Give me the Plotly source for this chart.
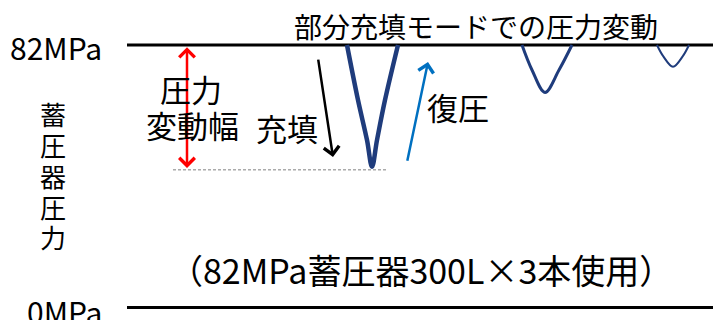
import plotly.graph_objects as go

# pressure levels (MPa)
p_full = 82
p_zero = 0
p_min_line = 43

# line extent along the time axis
t_start = 127
t_end = 721
t_dash = [173, 388]

# three pressure dips (partial filling mode)
dip1_t = [347, 358, 367, 372, 377, 385, 398]
dip1_p = [82, 64.8, 52.3, 44.0, 52.3, 64.8, 82]
dip2_t = [522, 532, 545, 559, 572]
dip2_p = [82, 74.2, 67.2, 74.2, 82]
dip3_t = [657, 663, 673, 683, 689]
dip3_p = [82, 78.6, 75.2, 78.6, 82]

title_text = "部分充填モードでの圧力変動"
note_text = "（82MPa蓄圧器300L×3本使用）"
ylabel_chars = "蓄圧器圧力"

# the page body has an 8px margin, so the figure sits at (8, 8)
OFF = 8
W, H = 721 - OFF, 320 - OFF
FONT = "Noto Sans CJK JP"
NAVY = "#1F3C7C"
PX_PER_MPA = (307.5 - 45) / 82


def py(px):
    # page pixel row -> paper y
    return 1 - (px - OFF) / H


fig = go.Figure()

# 82MPa and 0MPa reference lines
for lvl in (p_full, p_zero):
    fig.add_trace(go.Scatter(x=[t_start, t_end], y=[lvl, lvl], mode="lines",
                             line=dict(color="black", width=3), hoverinfo="skip"))

# dashed line at the lowest pressure
fig.add_trace(go.Scatter(x=t_dash, y=[p_min_line] * 2, mode="lines",
                         line=dict(color="#7F7F7F", width=1, dash="3px,2px"), hoverinfo="skip"))

# dips
for t, p, w in ((dip1_t, dip1_p, 4.5), (dip2_t, dip2_p, 3), (dip3_t, dip3_p, 2)):
    fig.add_trace(go.Scatter(x=t, y=p, mode="lines",
                             line=dict(color=NAVY, width=w, shape="spline", smoothing=1),
                             hoverinfo="skip"))

# arrows
arrows = [
    # red double arrow: pressure swing
    dict(x=187, y=43.6, ax=187, ay=81.8, color="#FF0000", width=2.5, both=True),
    # black: filling
    dict(x=333, y=47.0, ax=318, ay=77.9, color="black", width=2.5, both=False),
    # blue: recovery
    dict(x=428, y=76.7, ax=407, ay=45.4, color="#0070C0", width=2.5, both=False),
]
for a in arrows:
    fig.add_annotation(x=a["x"], y=a["y"], ax=a["ax"], ay=a["ay"], xref="x", yref="y",
                       axref="x", ayref="y", text="", showarrow=True,
                       arrowhead=4, arrowsize=1.2, arrowwidth=a["width"], arrowcolor=a["color"],
                       arrowside="end+start" if a["both"] else "end",
                       startarrowhead=4, startarrowsize=1.2)

texts = [
    (title_text, 475.5, 26, 28, "center"),
    ("82MPa", 104, 47, 30, "right"),
    ("0MPa", 104, 311, 30, "right"),
    ("圧力", 191, 88, 31, "center"),
    ("変動幅", 192, 124, 31, "center"),
    ("充填", 287, 128, 31, "center"),
    ("復圧", 458, 106, 31, "center"),
    (note_text, 421, 269, 34, "center"),
]
for txt, x, y, size, anchor in texts:
    fig.add_annotation(x=x, y=py(y), xref="x", yref="paper", text=txt, showarrow=False,
                       xanchor=anchor, yanchor="middle",
                       font=dict(family=FONT, size=size, color="black"))

for i, ch in enumerate(ylabel_chars):
    fig.add_annotation(x=53, y=py(113 + i * 31), xref="x", yref="paper", text=ch,
                       showarrow=False, xanchor="center", yanchor="middle",
                       font=dict(family=FONT, size=26, color="black"))

y_top = p_full + (45 - OFF) / PX_PER_MPA
y_bot = -(320 - 307.5) / PX_PER_MPA
fig.update_layout(
    width=W, height=H, autosize=False,
    margin=dict(l=0, r=0, t=0, b=0),
    paper_bgcolor="white", plot_bgcolor="white",
    showlegend=False,
    xaxis=dict(range=[OFF, 721], visible=False, fixedrange=True),
    yaxis=dict(range=[y_bot, y_top], visible=False, fixedrange=True),
)

fig.write_html("out.html")
